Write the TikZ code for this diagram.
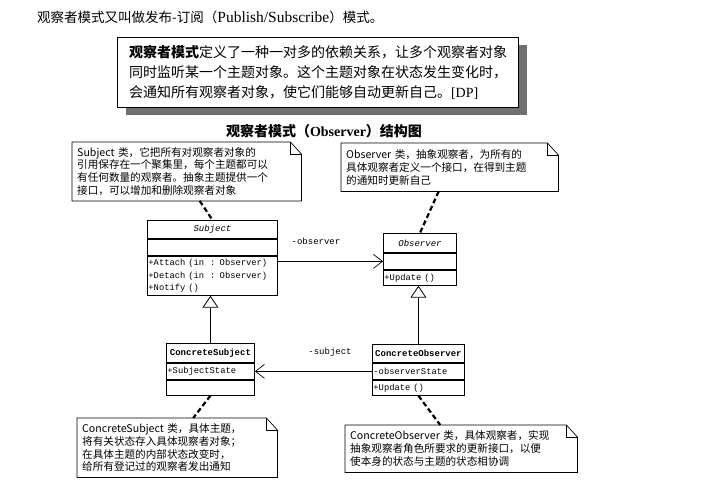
\documentclass[tikz,border=0pt]{standalone}
\usepackage{fontspec}
\usepackage{tikz}
\setmainfont{Liberation Serif}
\newfontfamily\cjk{Noto Sans CJK SC}
\newfontfamily\clsfont{Liberation Mono}
\usetikzlibrary{positioning,calc,arrows.meta,shadows}

\tikzset{
  clsbox/.style={draw, line width=0.9pt, inner xsep=1pt, inner ysep=0pt, anchor=north west,
    font=\clsfont\fontsize{8.8}{12.5}\selectfont},
  clstitle/.style={clsbox, align=center, font=\clsfont\fontsize{9}{12}\selectfont},
  clsmembers/.style={clsbox, align=left},
  notebox/.style={anchor=north west, inner sep=5pt, align=left,
    font=\cjk\fontsize{10.6}{12.8}\selectfont},
  noteline/.style={line width=2.2pt, dash pattern=on 5pt off 3pt},
  assoc/.style={line width=0.7pt, -{Straight Barb[length=9pt,width=14pt]}},
  gen/.style={line width=0.7pt, -{Triangle[open,length=12pt,width=16pt,line width=0.8pt]}},
  rolelabel/.style={font=\clsfont\fontsize{9}{11}\selectfont, inner sep=0pt}
}

% outline of a note with a folded corner
\newcommand\notefold[1]{%
  \draw[line width=0.7pt] (#1.south west) -- (#1.north west) -- ([xshift=-11pt]#1.north east)
    -- ([yshift=-12pt]#1.north east) -- (#1.south east) -- cycle;
  \draw[line width=0.7pt] ([xshift=-11pt]#1.north east) -- ([xshift=-11pt,yshift=-12pt]#1.north east)
    -- ([yshift=-12pt]#1.north east);}

\begin{document}
\begin{tikzpicture}[x=1pt, y=-1pt]
    \useasboundingbox (0,0) rectangle (712,496);

    % heading text
    \node[anchor=west, inner sep=0pt, font=\cjk\fontsize{13.5}{15}\selectfont] (intro) at (37,17)
        {观察者模式又叫做发布-订阅（{\rmfamily\fontsize{15.5}{16}\selectfont Publish/Subscribe}）模式。};

    \node[anchor=north west, draw, line width=1pt, fill=white, minimum width=401pt, minimum height=70pt,
          align=left, font=\cjk\fontsize{14}{20}\selectfont,
          drop shadow={shadow xshift=8pt, shadow yshift=-7pt, fill=black!70, opacity=0.8}] (defn) at (117,37)
        {{\bfseries 观察者模式}定义了一种一对多的依赖关系，让多个观察者对象\\
         同时监听某一个主题对象。这个主题对象在状态发生变化时，\\
         会通知所有观察者对象，使它们能够自动更新自己。{\rmfamily [DP]}};

    \node[font=\cjk\bfseries\fontsize{14}{16}\selectfont, inner sep=0pt] (title) at (324,131)
        {观察者模式（{\rmfamily Observer}）结构图};

    % Subject
    \node[clstitle, text width=128pt, minimum height=18pt] (subjname) at (147,220) {\itshape Subject};
    \node[clsmembers, text width=128pt, minimum height=16pt, below=0pt of subjname] (subjattr) {};
    \node[clsmembers, text width=128pt, minimum height=39pt, below=0pt of subjattr] (subjops)
        {+Attach (in\ \ : Observer)\\+Detach (in\ \ : Observer)\\+Notify ()};

    % Observer
    \node[clstitle, text width=71pt, minimum height=19pt] (obsname) at (383,233) {\itshape Observer};
    \node[clsmembers, text width=71pt, minimum height=16pt, below=0pt of obsname] (obsattr) {};
    \node[clsmembers, text width=71pt, minimum height=15pt, below=0pt of obsattr] (obsops) {+Update ()};

    % ConcreteSubject
    \node[clstitle, text width=86pt, minimum height=19pt] (csubjname) at (166,343) {\bfseries ConcreteSubject};
    \node[clsmembers, text width=86pt, minimum height=16pt, below=0pt of csubjname] (csubjattr) {+SubjectState};
    \node[clsmembers, text width=86pt, minimum height=15pt, below=0pt of csubjattr] (csubjops) {};

    % ConcreteObserver
    \node[clstitle, text width=90pt, minimum height=18pt] (cobsname) at (372,344) {\bfseries ConcreteObserver};
    \node[clsmembers, text width=90pt, minimum height=16pt, below=0pt of cobsname] (cobsattr) {-observerState};
    \node[clsmembers, text width=90pt, minimum height=15pt, below=0pt of cobsattr] (cobsops) {+Update ()};

    % relations
    \draw[assoc] (subjops.east |- obsattr.west) -- (obsattr.west);
    \node[rolelabel] (obsrole) at (316,241) {-observer};
    \draw[assoc] (cobsattr.west) -- (csubjattr.east);
    \node[rolelabel] (subjrole) at (330,352) {-subject};
    \draw[gen] (csubjname.north) -- (csubjname.north |- subjops.south);
    \draw[gen] (cobsname.north) -- (cobsname.north |- obsops.south);

    % notes
    \node[notebox, text width=219pt, minimum height=58pt] (subjnote) at (72,142)
        {Subject 类，它把所有对观察者对象的\\引用保存在一个聚集里，每个主题都可以\\有任何数量的观察者。抽象主题提供一个\\接口，可以增加和删除观察者对象};
    \notefold{subjnote}
    \node[notebox, text width=207pt, minimum height=48pt] (obsnote) at (341,143)
        {Observer 类，抽象观察者，为所有的\\具体观察者定义一个接口，在得到主题\\的通知时更新自己};
    \notefold{obsnote}
    \node[notebox, text width=190pt, minimum height=59pt] (csubjnote) at (77,418)
        {ConcreteSubject 类，具体主题，\\将有关状态存入具体现察者对象；\\在具体主题的内部状态改变时，\\给所有登记过的观察者发出通知};
    \notefold{csubjnote}
    \node[notebox, text width=222pt, minimum height=47pt] (cobsnote) at (345,425)
        {ConcreteObserver 类，具体观察者，实现\\抽象观察者角色所要求的更新接口，以便\\使本身的状态与主题的状态相协调};
    \notefold{cobsnote}

    \draw[noteline] ([xshift=13pt]subjnote.south) -- (subjname.north);
    \draw[noteline] ([xshift=-11pt]obsnote.south) -- (obsname.north);
    \draw[noteline] (csubjops.south) -- ([xshift=16pt]csubjnote.north);
    \draw[noteline] (cobsops.south) -- ([xshift=-21pt]cobsnote.north);
\end{tikzpicture}
\end{document}
